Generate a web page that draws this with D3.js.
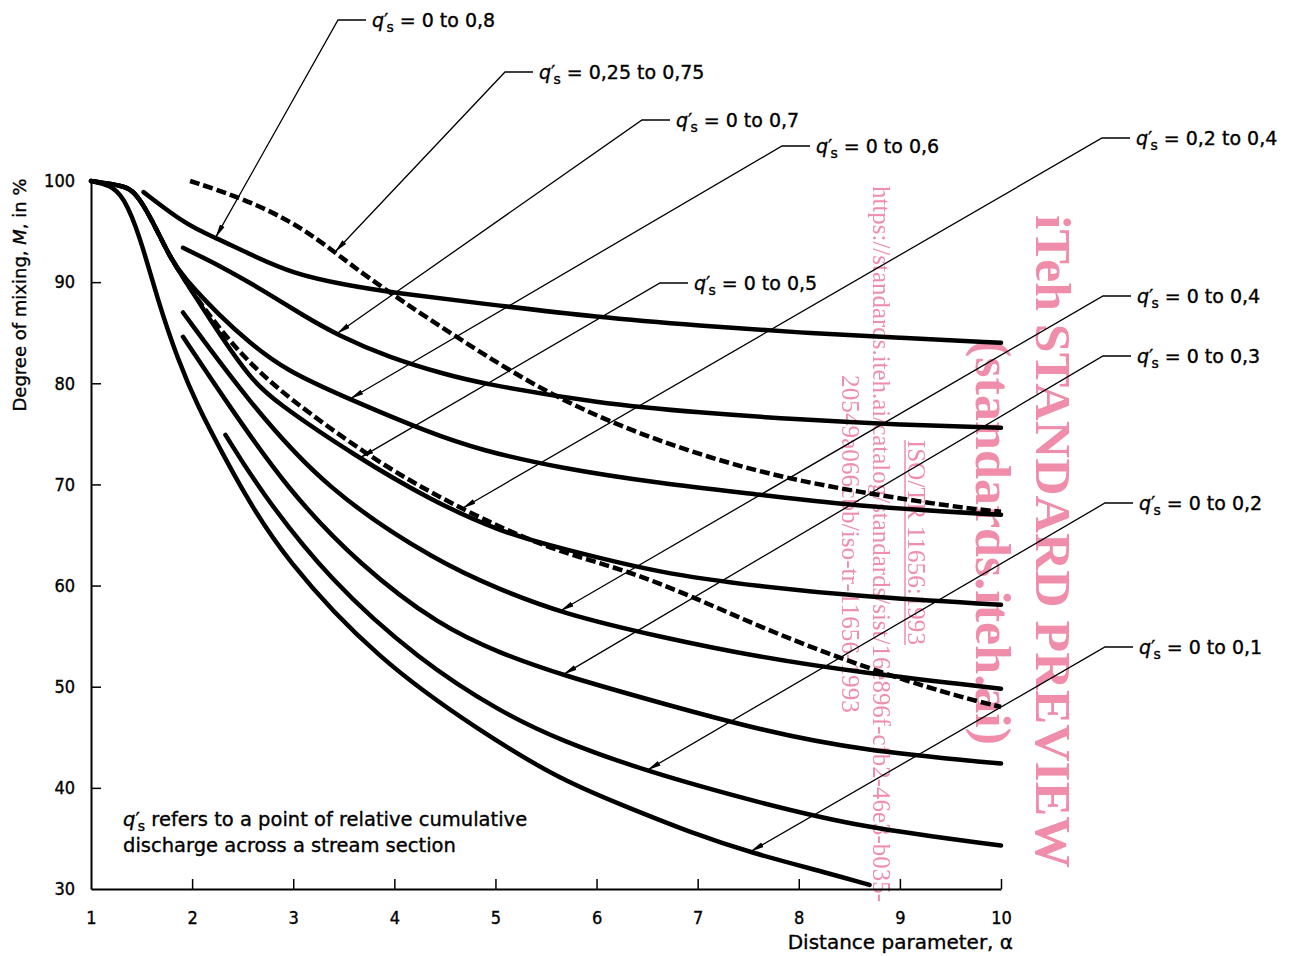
<!DOCTYPE html>
<html>
<head>
<meta charset="utf-8">
<script src="https://cdn.jsdelivr.net/npm/d3@7"></script>
<style>
    body { margin: 0; background: #fff; }
    text { font-family: "DejaVu Sans", sans-serif; fill: #000; }
    .ink { stroke: #000; stroke-width: 0.35; }
    .axis path, .axis line { stroke: #000; }
    .axis path { stroke-width: 2; }
    .axis line { stroke-width: 1.5; }
    .axis text { font-family: "DejaVu Sans Condensed", "DejaVu Sans", sans-serif; font-stretch: condensed; font-size: 18px; stroke: #000; stroke-width: 0.35; }
    .wm text { font-family: "Liberation Serif", "DejaVu Serif", serif; fill: #ef8dab; }
</style>
</head>
<body>
<svg id="chart" width="1289" height="956"></svg>
<script>
// Axis ticks
var alphaTicks = [1, 2, 3, 4, 5, 6, 7, 8, 9, 10];
var mixTicks = [30, 40, 50, 60, 70, 80, 90, 100];

// Curves: [distance parameter alpha, degree of mixing M %]
var q08 = [[1.52, 98.9], [1.95, 95.6], [2.23, 94.4], [2.54, 92.9], [3.0, 90.8], [3.53, 89.7], [3.96, 89.0], [4.85, 87.9],
    [6.03, 86.5], [7.02, 85.7], [8.01, 85.0], [9.0, 84.5], [10, 84.0]];
var q025075 = [[1.98, 100], [2.47, 98.4], [2.97, 96.1], [3.36, 93.4], [3.79, 90.0], [4.85, 83.0], [5.64, 78.3],
    [6.56, 74.4], [7.62, 71.1], [8.61, 69.2], [9.6, 67.7], [10, 67.3]];
var q07 = [[1.91, 93.4], [2.3, 91.5], [2.7, 89.2], [3.1, 86.7], [3.43, 84.8], [3.96, 82.5], [4.5, 80.9], [4.85, 80.0],
    [6.03, 78.0], [7.02, 77.1], [8.01, 76.4], [9.0, 75.9], [10, 75.6]];
var q06 = [[1, 100], [1.19, 99.7], [1.39, 99.4], [1.51, 97.8], [1.65, 95.2], [1.78, 92.5], [1.91, 90.5], [2.28, 86.6],
    [2.57, 84.0], [2.92, 81.3], [3.56, 78.4], [4.35, 75.1], [4.85, 73.4], [5.64, 71.6], [6.63, 70.1], [7.62, 69.0],
    [8.61, 67.8], [10, 67.0]];
var q05 = [[1, 100], [1.19, 99.7], [1.39, 99.4], [1.51, 97.8], [1.65, 95.2], [1.78, 92.5], [1.91, 90.5], [2.01, 88.9],
    [2.3, 84.4], [2.57, 80.6], [2.80, 78.3], [3.63, 72.7], [4.35, 68.5], [5.05, 65.3], [5.64, 63.7], [6.63, 61.2],
    [7.62, 59.9], [8.61, 58.9], [10, 58.1]];
var q0204 = [[1, 100], [1.19, 99.7], [1.39, 99.4], [1.51, 97.8], [1.65, 95.2], [1.78, 92.5], [1.91, 90.5], [2.01, 88.9],
    [2.3, 85.0], [2.57, 82.0], [2.93, 78.7], [3.73, 72.9], [4.35, 69.2], [5.05, 65.7], [5.64, 63.3], [6.30, 61.5],
    [6.95, 58.9], [7.62, 55.9], [8.28, 53.3], [8.93, 51.0], [9.59, 49.0], [10, 48.0]];
var q04 = [[1.91, 87.0], [2.55, 78.3], [3.33, 69.4], [4.45, 62.2], [5.05, 59.6], [5.64, 57.3], [6.63, 54.9],
    [7.62, 52.9], [8.61, 51.4], [10, 49.8]];
var q03 = [[1.91, 84.6], [2.33, 78.3], [2.95, 69.4], [3.66, 62.0], [4.45, 56.0], [5.05, 53.3], [5.64, 51.2],
    [6.63, 48.4], [7.62, 45.7], [8.61, 43.7], [10, 42.4]];
var q02 = [[2.33, 74.9], [2.67, 69.4], [3.36, 60.5], [4.25, 52.6], [5.05, 47.5], [5.64, 44.7], [6.50, 41.6],
    [7.62, 38.5], [8.61, 36.1], [10, 34.3]];
var q01 = [[1, 100], [1.19, 99.6], [1.32, 98.5], [1.48, 94.7], [1.66, 88.2], [1.86, 82.3], [2.06, 77.6], [2.31, 72.9],
    [2.50, 69.4], [2.90, 62.8], [3.84, 52.6], [4.88, 45.4], [5.64, 40.8], [6.30, 38.1], [6.95, 35.5], [7.52, 33.6],
    [8.28, 31.6], [8.70, 30.4]];

// Label for each curve and the alpha its leader arrow points at
var labelText = ['0 to 0,8', '0,25 to 0,75', '0 to 0,7', '0 to 0,6', '0 to 0,5', '0,2 to 0,4', '0 to 0,4', '0 to 0,3', '0 to 0,2', '0 to 0,1'];
var seriesData = [q08, q025075, q07, q06, q05, q0204, q04, q03, q02, q01];
var arrowAlpha = [2.23, 3.41, 3.43, 3.56, 3.66, 4.67, 5.64, 5.67, 6.50, 7.52];
var dashedSeries = ['0,25 to 0,75', '0,2 to 0,4'];

// Where each label sits (elbow of the leader line), page pixels
var labelAt = [[338, 20], [505, 72], [642, 120], [782, 146], [660, 283], [1102, 138], [1103, 296], [1103, 356], [1105, 503], [1105, 647]];

var svg = d3.select('#chart');

var x = d3.scaleLinear().domain([1, 10]).range([91, 1001]);
var y = d3.scaleLinear().domain([30, 100]).range([889, 181]);

// Arrow head for the leader lines
svg.append('defs').append('marker')
    .attr('id', 'arrow')
    .attr('viewBox', '0 -3 14 6')
    .attr('refX', 14)
    .attr('refY', 0)
    .attr('markerUnits', 'userSpaceOnUse')
    .attr('markerWidth', 14)
    .attr('markerHeight', 6)
    .attr('orient', 'auto')
    .append('path')
    .attr('d', 'M0,-2.6L14,0L0,2.6Z')
    .attr('fill', '#000');

// Axes
var xAxis = d3.axisBottom(x).tickValues(alphaTicks).tickSizeInner(-10).tickSizeOuter(0)
    .tickPadding(22).tickFormat(d3.format('d'));
var yAxis = d3.axisLeft(y).tickValues(mixTicks).tickSizeInner(-10).tickSizeOuter(0)
    .tickPadding(16).tickFormat(d3.format('d'));

var gx = svg.append('g').attr('class', 'axis').attr('transform', 'translate(0,889)').call(xAxis);
var gy = svg.append('g').attr('class', 'axis').attr('transform', 'translate(91,0)').call(yAxis);
gx.selectAll('.tick').filter(d => d === 1).select('line').remove();
gy.selectAll('.tick').filter(d => d === 30 || d === 100).select('line').remove();
gx.selectAll('text').attr('font-family', null).attr('font-size', null);
gy.selectAll('text').attr('font-family', null).attr('font-size', null);

// Axis titles
svg.append('text')
    .attr('class', 'ink')
    .attr('x', 1013)
    .attr('y', 949)
    .attr('text-anchor', 'end')
    .attr('font-size', '20px')
    .text('Distance parameter, α');

var yTitle = svg.append('text')
    .attr('class', 'ink')
    .attr('transform', 'translate(26,295) rotate(-90)')
    .attr('text-anchor', 'middle')
    .attr('font-size', '18px');
yTitle.append('tspan').text('Degree of mixing, ');
yTitle.append('tspan').attr('font-style', 'italic').text('M');
yTitle.append('tspan').text(', in %');

// Curves
var line = d3.line()
    .x(d => x(d[0]))
    .y(d => y(d[1]))
    .curve(d3.curveBasis);

var paths = svg.append('g')
    .selectAll('path')
    .data(seriesData)
    .join('path')
    .attr('d', line)
    .attr('fill', 'none')
    .attr('stroke', '#000')
    .attr('stroke-width', 4.5)
    .attr('stroke-linejoin', 'round')
    .attr('stroke-linecap', (d, i) => dashedSeries.includes(labelText[i]) ? 'butt' : 'round')
    .attr('stroke-dasharray', (d, i) => dashedSeries.includes(labelText[i]) ? '10,4' : null);

// Find the point of a drawn curve at a given alpha
function pointAtAlpha(node, a) {
    var tx = x(a);
    var lo = 0, hi = node.getTotalLength(), p = node.getPointAtLength(0);
    for (var k = 0; k < 40; k++) {
        var mid = (lo + hi) / 2;
        p = node.getPointAtLength(mid);
        if (p.x < tx) lo = mid; else hi = mid;
    }
    return p;
}

// Leader lines and labels
var leaders = svg.append('g');
paths.each(function(d, i) {
    var tip = pointAtAlpha(this, arrowAlpha[i]);
    var ex = labelAt[i][0], ey = labelAt[i][1];

    leaders.append('path')
        .attr('d', `M${ex + 28},${ey}L${ex},${ey}L${tip.x},${tip.y}`)
        .attr('fill', 'none')
        .attr('stroke', '#000')
        .attr('stroke-width', 1.3)
        .attr('marker-end', 'url(#arrow)');

    var t = leaders.append('text')
        .attr('class', 'ink')
        .attr('x', ex + 34)
        .attr('y', ey + 7)
        .attr('font-size', '19px');
    t.append('tspan').attr('font-style', 'italic').text('q');
    t.append('tspan').text('′');
    t.append('tspan').attr('dy', 5).attr('dx', -2).attr('font-size', '14px').text('s');
    t.append('tspan').attr('dy', -5).text(' = ' + labelText[i]);
});

// Note inside the plot
var note = svg.append('text')
    .attr('class', 'ink')
    .attr('x', 123)
    .attr('y', 826)
    .attr('font-size', '19.5px');
note.append('tspan').attr('font-style', 'italic').text('q');
note.append('tspan').text('′');
note.append('tspan').attr('dy', 5).attr('dx', -2).attr('font-size', '14px').text('s');
note.append('tspan').attr('dy', -5).text(' refers to a point of relative cumulative');
svg.append('text')
    .attr('class', 'ink')
    .attr('x', 123)
    .attr('y', 852)
    .attr('font-size', '19.5px')
    .text('discharge across a stream section');

// Watermark of the scanned source
var wm = svg.append('g').attr('class', 'wm').style('mix-blend-mode', 'multiply');
wm.append('text')
    .attr('transform', 'translate(1036,215) rotate(90)')
    .attr('font-size', '50px')
    .attr('font-weight', 'bold')
    .attr('textLength', 653)
    .attr('lengthAdjust', 'spacingAndGlyphs')
    .text('iTeh STANDARD PREVIEW');
wm.append('text')
    .attr('transform', 'translate(976,340) rotate(90)')
    .attr('font-size', '50px')
    .attr('font-weight', 'bold')
    .attr('textLength', 405)
    .attr('lengthAdjust', 'spacingAndGlyphs')
    .text('(standards.iteh.ai)');
wm.append('text')
    .attr('transform', 'translate(908,440) rotate(90)')
    .attr('font-size', '25px')
    .attr('textLength', 205)
    .attr('lengthAdjust', 'spacingAndGlyphs')
    .text('ISO/TR 11656:1993');
wm.append('line')
    .attr('x1', 905).attr('x2', 905)
    .attr('y1', 440).attr('y2', 645)
    .attr('stroke', '#ef8dab')
    .attr('stroke-width', 1.5);
wm.append('text')
    .attr('transform', 'translate(873,186) rotate(90)')
    .attr('font-size', '25px')
    .attr('textLength', 716)
    .attr('lengthAdjust', 'spacingAndGlyphs')
    .text('https://standards.iteh.ai/catalog/standards/sist/16e896f-cfb2-46e3-b035-');
wm.append('text')
    .attr('transform', 'translate(842,375) rotate(90)')
    .attr('font-size', '25px')
    .attr('textLength', 338)
    .attr('lengthAdjust', 'spacingAndGlyphs')
    .text('20549a066cbb/iso-tr-11656-1993');
</script>
</body>
</html>
